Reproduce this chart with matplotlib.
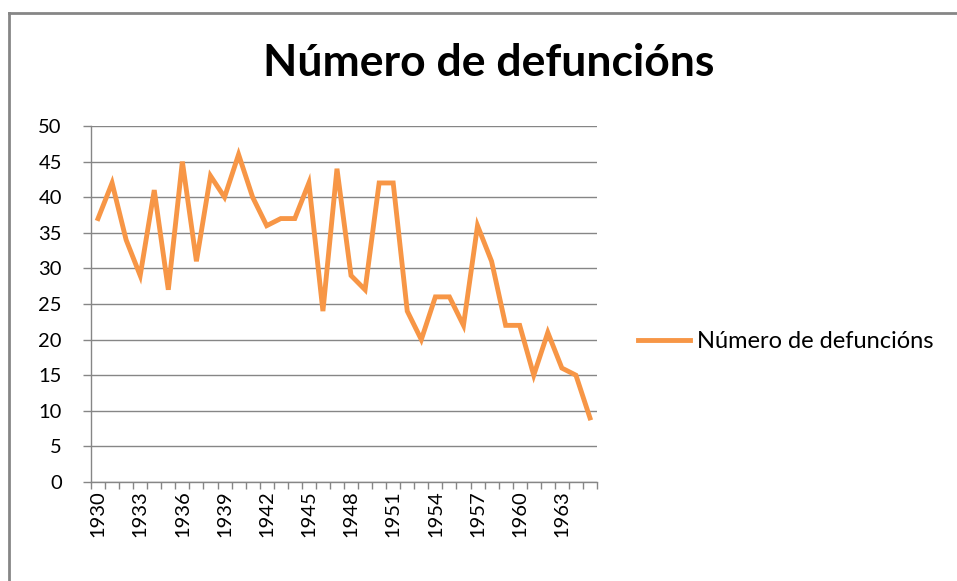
import numpy as np
import matplotlib.pyplot as plt
from matplotlib.lines import Line2D

# --- podaci ---
anos = list(range(1930, 1966))
defuncions = [37, 42, 34, 29, 41, 27, 45, 31, 43, 40,
              46, 40, 36, 37, 37, 42, 24, 44, 29, 27,
              42, 42, 24, 20, 26, 26, 22, 36, 31, 22,
              22, 15, 21, 16, 15, 9]
serie = 'Número de defuncións'
y_ticks = list(range(0, 55, 5))

plt.rcParams['font.family'] = ['Lato', 'DejaVu Sans']

naranxa = '#F79646'
gris = '#868686'

fig = plt.figure(figsize=(9.57, 5.81), dpi=100)
ax = fig.add_axes([91/957, 1 - 482/581, (597 - 91)/957, (482 - 126)/581])

x = np.arange(len(anos))
ax.plot(x, defuncions, color=naranxa, lw=3.5, solid_joinstyle='miter')

ax.set_xlim(-0.5, len(anos) - 0.5)
ax.set_ylim(0, 50)
ax.set_yticks(y_ticks)
ax.grid(axis='y', color=gris, lw=1.0)
ax.set_axisbelow(True)

# etiquetas cada 3 anos no centro da categoría, marcas entre categorías
ax.set_xticks(x[::3])
ax.set_xticklabels([str(a) for a in anos[::3]], rotation=90)
ax.set_xticks(np.arange(-0.5, len(anos)), minor=True)
ax.tick_params(axis='x', which='major', length=0, pad=6, labelsize=14.5)
ax.tick_params(axis='x', which='minor', length=5, color=gris, width=1)
ax.tick_params(axis='y', length=6, color=gris, width=1, labelsize=14.5, pad=15)

for s in ['top', 'right']:
    ax.spines[s].set_visible(False)
for s in ['left', 'bottom']:
    ax.spines[s].set_color(gris)
    ax.spines[s].set_linewidth(1)

fig.text(489/957, 1 - 63/581, serie, ha='center', va='center',
         fontsize=32, fontweight='bold')

# lenda
leg = fig.legend([Line2D([0], [0], color=naranxa, lw=3.5)], [serie],
                 loc='center left', bbox_to_anchor=(638/957, 1 - 342/581),
                 frameon=False, fontsize=17, handlelength=2.2, handletextpad=0.3,
                 borderpad=0, borderaxespad=0)

# bordo do gráfico
fig.add_artist(Line2D([9/957, 9/957], [0, 1 - 13/581], color=gris, lw=2,
                      transform=fig.transFigure))
fig.add_artist(Line2D([9/957, 1.01], [1 - 13/581, 1 - 13/581], color=gris, lw=2,
                      transform=fig.transFigure))

fig.savefig('out.png', dpi=100)
